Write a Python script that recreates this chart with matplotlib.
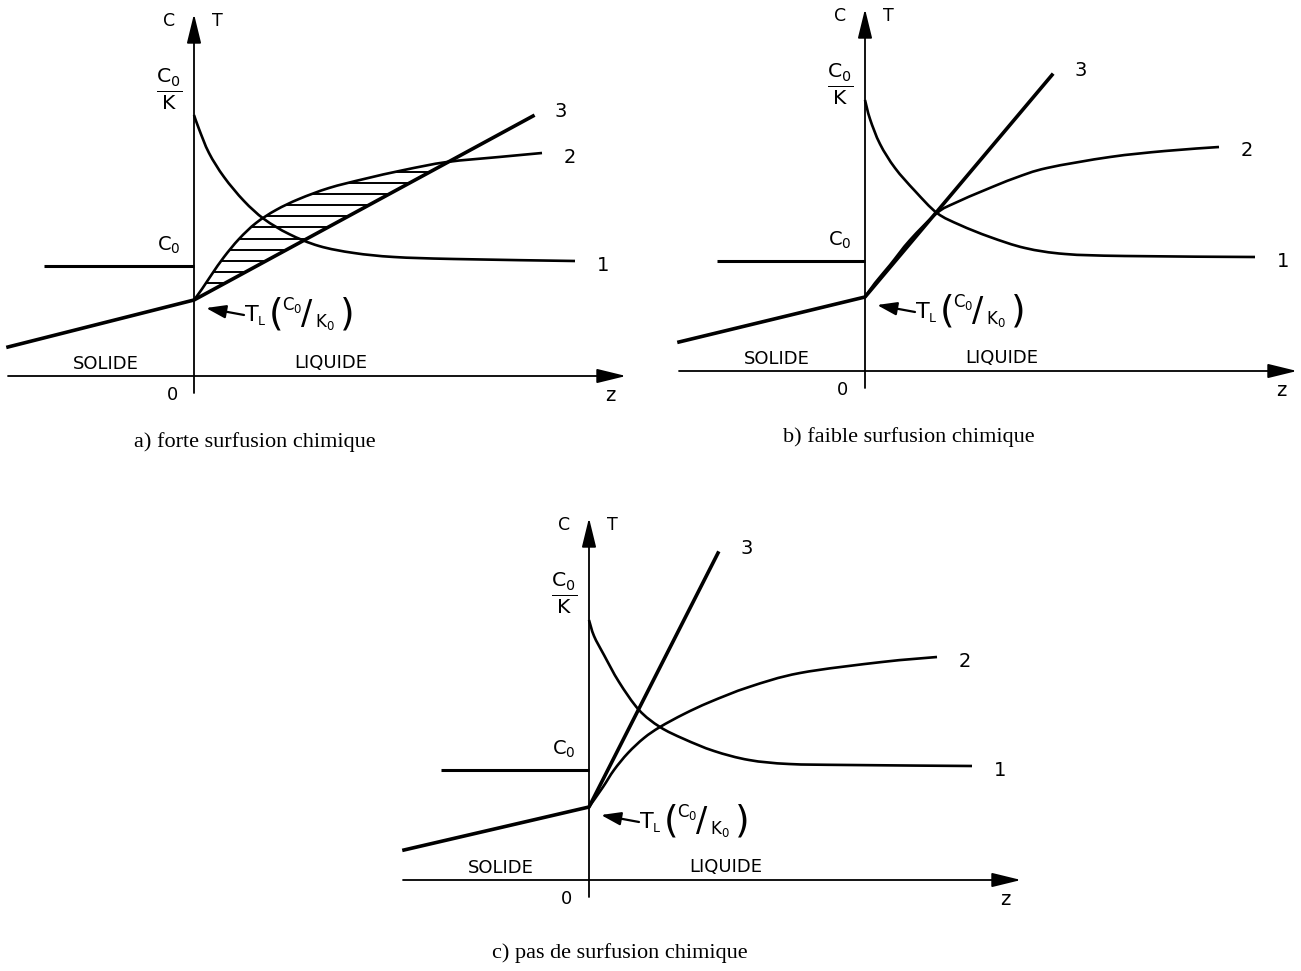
import numpy as np
import matplotlib
matplotlib.use("Agg")
import matplotlib.pyplot as plt
from matplotlib.patches import Polygon, PathPatch
from matplotlib.path import Path

plt.rcParams["font.family"] = ["DejaVu Sans"]
plt.rcParams["mathtext.fontset"] = "dejavusans"

# curve 1 : C(z), curve 2 : T_L(C(z)), curve 3 : T(z)  (z in units from the interface)
# a) forte surfusion chimique
a_c1_z = [0.00, 0.05, 0.15, 0.30, 0.50, 0.70, 0.95, 1.25, 1.60, 2.00, 2.60, 3.81]
a_c1_v = [2.61, 2.47, 2.23, 1.99, 1.75, 1.57, 1.42, 1.30, 1.23, 1.19, 1.17, 1.15]
a_c2_z = [0.00, 0.08, 0.18, 0.30, 0.45, 0.62, 0.82, 1.05, 1.35, 1.70, 2.10, 2.53, 3.05, 3.48]
a_c2_v = [0.76, 0.87, 1.02, 1.19, 1.37, 1.53, 1.66, 1.77, 1.88, 1.97, 2.06, 2.14, 2.19, 2.23]
a_t_z = [-1.86, 0.00, 3.39]
a_t_v = [0.29, 0.76, 2.60]

# b) faible surfusion chimique
b_c1_z = [0.00, 0.05, 0.15, 0.30, 0.50, 0.72, 0.95, 1.25, 1.60, 2.00, 2.60, 3.90]
b_c1_v = [2.71, 2.52, 2.27, 2.03, 1.80, 1.58, 1.46, 1.34, 1.23, 1.17, 1.15, 1.14]
b_c2_z = [0.00, 0.10, 0.25, 0.45, 0.72, 0.90, 1.20, 1.50, 1.82, 2.45, 3.00, 3.54]
b_c2_v = [0.74, 0.88, 1.06, 1.31, 1.58, 1.68, 1.81, 1.93, 2.03, 2.14, 2.20, 2.24]
b_t_z = [-1.86, 0.00, 1.87]
b_t_v = [0.29, 0.74, 2.96]

# c) pas de surfusion chimique
c_c1_z = [0.00, 0.05, 0.15, 0.30, 0.50, 0.71, 0.95, 1.25, 1.60, 2.00, 2.60, 3.83]
c_c1_v = [2.60, 2.44, 2.25, 1.98, 1.70, 1.53, 1.41, 1.29, 1.20, 1.16, 1.15, 1.14]
c_c2_z = [0.00, 0.14, 0.25, 0.39, 0.55, 0.71, 0.95, 1.21, 1.60, 2.11, 2.93, 3.48]
c_c2_v = [0.73, 0.93, 1.10, 1.27, 1.42, 1.53, 1.66, 1.78, 1.93, 2.07, 2.18, 2.23]
c_t_z = [-1.85, 0.00, 1.29]
c_t_v = [0.30, 0.73, 3.27]

# C0 level in the solid and hatched zone limit for a)
c0_level = [1.10, 1.10, 1.10]
c0_start = [-1.50, -1.48, -1.48]
a_hatch_end = 2.53

captions = ["a) forte surfusion chimique",
            "b) faible surfusion chimique",
            "c) pas de surfusion chimique"]

W, H = 1301, 971
fig = plt.figure(figsize=(W / 100, H / 100), dpi=100)

# origin of each panel in pixels, caption centre in pixels
origins = [(194, 376), (865, 371), (589, 880)]
cap_pos = [(255, 442), (909, 437), (620, 953)]

panels = [
    (a_c1_z, a_c1_v, a_c2_z, a_c2_v, a_t_z, a_t_v),
    (b_c1_z, b_c1_v, b_c2_z, b_c2_v, b_t_z, b_t_v),
    (c_c1_z, c_c1_v, c_c2_z, c_c2_v, c_t_z, c_t_v),
]

arrow_kw = dict(arrowstyle="-|>,head_length=0.9,head_width=0.22",
                color="k", lw=1.3, mutation_scale=20, shrinkA=0, shrinkB=0)


def smooth_path(z, v):
    # catmull-rom through the read points, drawn as cubic bezier segments
    p = np.column_stack([z, v])
    ext = np.vstack([p[0], p, p[-1]])
    verts, codes = [tuple(p[0])], [Path.MOVETO]
    for k in range(len(p) - 1):
        p0, p1, p2, p3 = ext[k], ext[k + 1], ext[k + 2], ext[k + 3]
        verts += [tuple(p1 + (p2 - p0) / 6), tuple(p2 - (p3 - p1) / 6), tuple(p2)]
        codes += [Path.CURVE4] * 3
    return Path(verts, codes)


for i, (c1z, c1v, c2z, c2v, tz, tv) in enumerate(panels):
    ox, oy = origins[i]
    ax = fig.add_axes([(ox - 190) / W, (H - oy - 30) / H, 620 / W, 400 / H])
    ax.set_xlim(-1.9, 4.3)
    ax.set_ylim(-0.3, 3.7)
    ax.axis("off")

    # axes
    ax.annotate("", xy=(4.32, 0), xytext=(-1.86, 0), arrowprops=arrow_kw,
                annotation_clip=False)
    ax.annotate("", xy=(0, 3.62), xytext=(0, -0.17), arrowprops=arrow_kw,
                annotation_clip=False)

    # C0 in the solid
    ax.plot([c0_start[i], 0], [c0_level[i], c0_level[i]], color="k", lw=2.2,
            clip_on=False, solid_capstyle="butt")
    # curves
    for z, v in ((c1z, c1v), (c2z, c2v)):
        ax.add_patch(PathPatch(smooth_path(z, v), fill=False, ec="k", lw=1.9,
                               clip_on=False))
    ax.plot(tz, tv, color="k", lw=2.6, clip_on=False, solid_joinstyle="round")

    # curve labels
    for z, v, lab in ((c1z, c1v, "1"), (c2z, c2v, "2"), (tz, tv, "3")):
        ax.text(z[-1] + 0.22, v[-1] + (0.05 if lab == "3" else -0.04), lab,
                fontsize=14, ha="left", va="center")

    # texts on axes
    ax.text(-0.25, 3.55, "C", fontsize=12.5, ha="center", va="center")
    ax.text(0.23, 3.55, "T", fontsize=12.5, ha="center", va="center")
    ax.text(-0.25, 2.87, r"$\frac{\mathrm{C_0}}{\mathrm{K}}$", fontsize=21,
            ha="center", va="center")
    ax.text(-0.25, 1.31, r"$\mathrm{C_0}$", fontsize=14, ha="center", va="center")
    ax.text(-0.88, 0.12, "SOLIDE", fontsize=13, ha="center", va="center")
    ax.text(1.37, 0.13, "LIQUIDE", fontsize=13, ha="center", va="center")
    ax.text(-0.22, -0.19, "0", fontsize=13, ha="center", va="center")
    ax.text(4.16, -0.19, "z", fontsize=14, ha="center", va="center")

    # interface liquidus temperature T_L(C0/K0)
    kink = tv[1]
    ax.annotate("", xy=(0.12, kink - 0.08), xytext=(0.50, kink - 0.15),
                arrowprops=dict(arrowstyle="-|>,head_length=0.6,head_width=0.2",
                                color="k", lw=1.6, mutation_scale=20,
                                shrinkA=0, shrinkB=0))
    x0 = 0.51
    ax.text(x0, kink - 0.15, "T", fontsize=16, ha="left", va="center")
    ax.text(x0 + 0.13, kink - 0.21, "L", fontsize=9, ha="left", va="center")
    ax.text(x0 + 0.24, kink - 0.14, "(", fontsize=27, ha="left", va="center")
    ax.text(x0 + 0.37, kink - 0.05, r"$\mathrm{C_0}$", fontsize=12,
            ha="left", va="center")
    ax.text(x0 + 0.56, kink - 0.14, "/", fontsize=24, ha="left", va="center")
    ax.text(x0 + 0.70, kink - 0.22, r"$\mathrm{K_0}$", fontsize=12,
            ha="left", va="center")
    ax.text(x0 + 0.95, kink - 0.14, ")", fontsize=27, ha="left", va="center")

    # hatched zone of constitutional undercooling
    if i == 0:
        pz = [z for z in c2z if z <= a_hatch_end]
        pv = [v for z, v in zip(c2z, c2v) if z <= a_hatch_end]
        poly = Polygon(list(zip(pz, pv)) + [(tz[1], tv[1])], closed=True,
                       transform=ax.transData, fill=False, lw=0)
        ax.add_patch(poly)
        levels = np.arange(0.93, 2.10, 0.111)
        hl = ax.hlines(levels, 0, a_hatch_end, color="k", lw=1.4)
        hl.set_clip_path(poly)

    fig.text(cap_pos[i][0] / W, 1 - cap_pos[i][1] / H, captions[i],
             family="Liberation Serif", fontsize=16, ha="center", va="center")

fig.savefig("out.png", dpi=100)
